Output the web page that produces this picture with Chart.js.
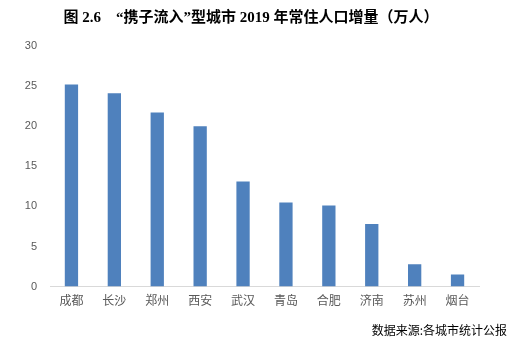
<!DOCTYPE html>
<html>
<head>
<meta charset="utf-8">
<script src="https://cdn.jsdelivr.net/npm/chart.js@4/dist/chart.umd.min.js"></script>
<style>
  html, body { margin: 0; padding: 0; background: #fff; }
  #wrap { width: 513px; height: 340px; position: relative; }
</style>
</head>
<body>
<div id="wrap"><canvas id="c"></canvas></div>
<script>
// 2019 resident population increase, "携子流入" type cities (unit: 10k people)
const cities = ['成都', '长沙', '郑州', '西安', '武汉', '青岛', '合肥', '济南', '苏州', '烟台'];
const increase = [25.2, 24.1, 21.7, 20.0, 13.1, 10.5, 10.1, 7.8, 2.8, 1.5];
const yMin = 0;
const yMax = 30;
const yStep = 5;

const titleText = '图 2.6　“携子流入”型城市 2019 年常住人口增量（万人）';
const sourceText = '数据来源:各城市统计公报';

// Heading at the top and source note in the bottom-right corner
const captions = {
  id: 'captions',
  afterDraw(chart) {
    const ctx = chart.ctx;
    ctx.save();
    ctx.fillStyle = '#000';
    ctx.textBaseline = 'middle';

    ctx.font = "bold 15px 'Liberation Serif', 'Noto Sans CJK SC'";
    ctx.textAlign = 'center';
    ctx.fillText(titleText, 251, 18);

    ctx.font = "12px 'Noto Sans CJK SC'";
    ctx.textAlign = 'right';
    ctx.fillText(sourceText, chart.width - 6, chart.height - 10);
    ctx.restore();
  }
};

new Chart(document.getElementById('c'), {
  type: 'bar',
  data: {
    labels: cities,
    datasets: [{
      data: increase,
      backgroundColor: '#4F81BD',
      borderWidth: 0,
      categoryPercentage: 1,
      barPercentage: 0.31
    }]
  },
  options: {
    responsive: true,
    maintainAspectRatio: false,
    animation: false,
    layout: { padding: { left: 0, right: 34, top: 46, bottom: 25 } },
    plugins: {
      legend: { display: false },
      tooltip: { enabled: false },
      title: { display: false }
    },
    scales: {
      x: {
        grid: { display: false, drawTicks: false },
        border: { display: true, color: '#D9D9D9', width: 1 },
        ticks: {
          color: '#595959',
          padding: 7,
          font: { family: "'Noto Sans CJK SC'", size: 12 },
          maxRotation: 0,
          autoSkip: false
        }
      },
      y: {
        min: yMin,
        max: yMax,
        grid: { display: false, drawTicks: false },
        border: { display: false },
        afterFit: (scale) => { scale.width = 50; },
        ticks: {
          stepSize: yStep,
          color: '#595959',
          padding: 13,
          font: { family: "'Liberation Sans', Arial", size: 11 }
        }
      }
    }
  },
  plugins: [captions]
});
</script>
</body>
</html>
